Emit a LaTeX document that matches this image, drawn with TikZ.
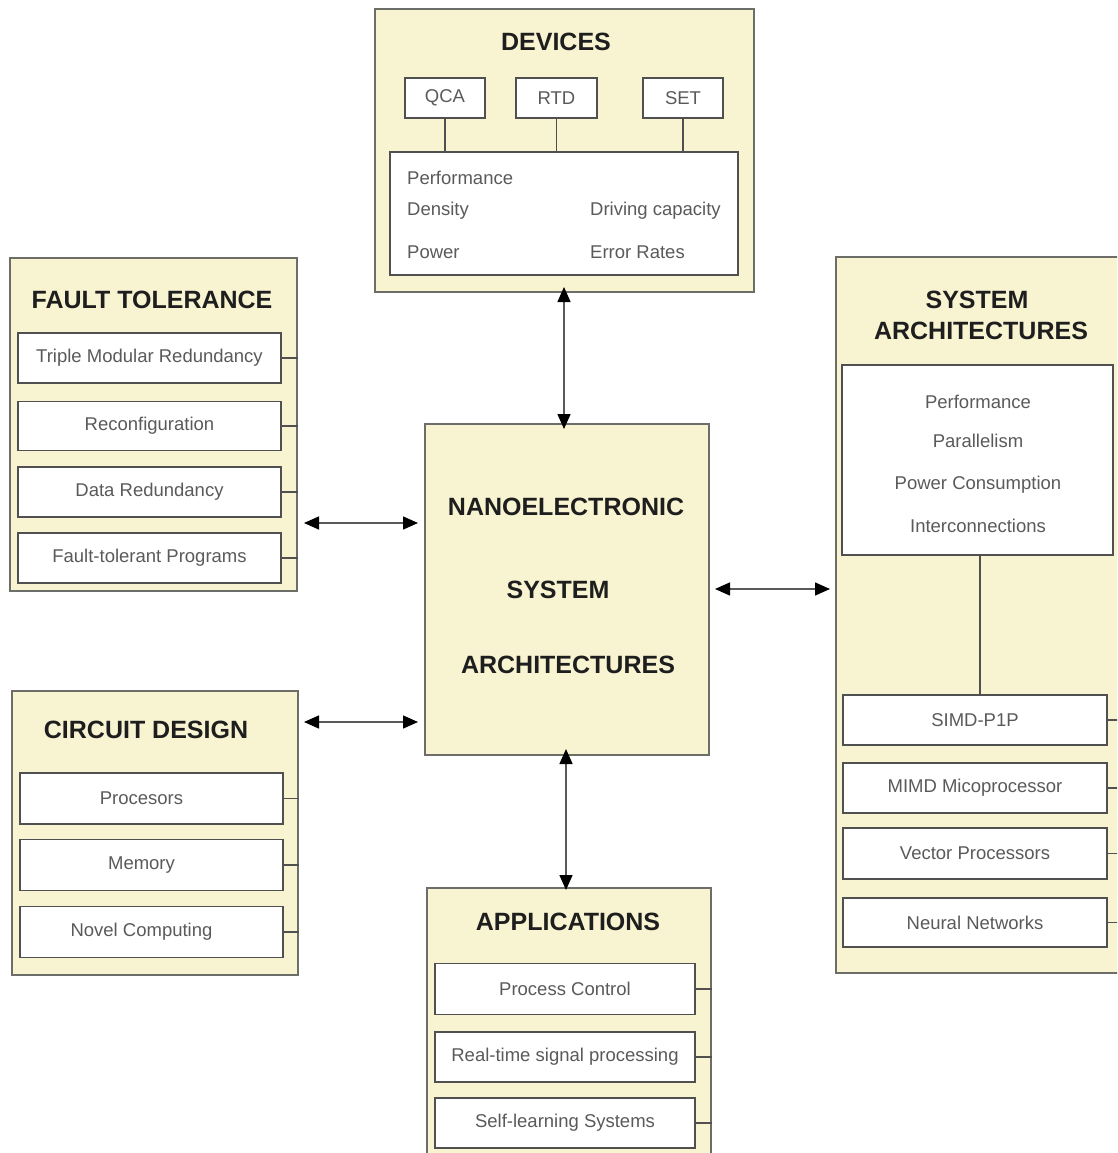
\documentclass[tikz,border=0pt]{standalone}
\usepackage{fontspec}
\setmainfont{Liberation Sans}
\usetikzlibrary{arrows.meta}
\definecolor{cream}{HTML}{F8F4D2}
\definecolor{bordc}{HTML}{6E6E68}
\definecolor{subc}{HTML}{505050}
\definecolor{txtc}{HTML}{5A5A5A}
\definecolor{ttlc}{HTML}{1E1E1E}
\tikzset{
  outerbox/.style={draw=bordc, line width=2pt, fill=cream, inner sep=0pt},
  whitebox/.style={draw=subc, line width=1.8pt, fill=white, inner sep=0pt},
  subbox/.style={whitebox, font=\fontsize{18.5}{22}\selectfont, text=txtc},
  ttl/.style={font=\fontsize{25}{30}\selectfont\bfseries, text=ttlc, inner sep=0pt},
  small/.style={font=\fontsize{18.5}{22}\selectfont, text=txtc, inner sep=0pt},
  tick/.style={draw=subc, line width=1.5pt},
  arr/.style={draw=black!65, line width=1.5pt, {Triangle[length=15pt,width=13pt,black]}-{Triangle[length=15pt,width=13pt,black]}},
}
\begin{document}
\begin{tikzpicture}[x=1pt,y=-1pt]
\useasboundingbox (0,0) rectangle (1117,1153);
\clip (0,0) rectangle (1117,1153);
\fill[white] (0,0) rectangle (1117,1153);

% ---------- DEVICES ----------
\node[outerbox, minimum width=379pt, minimum height=283pt] (dev) at (564.5,150.5) {};
\node[ttl] (devt) at (556,42) {DEVICES};
\node[whitebox, minimum width=348pt, minimum height=123pt] (devin) at (564,213.5) {};
\node[subbox, minimum width=80pt, minimum height=40pt] (qca) at (445,98) {QCA};
\node[subbox, minimum width=81pt, minimum height=40pt] (rtd) at (556.5,98) {RTD};
\node[subbox, minimum width=80pt, minimum height=40pt] (set) at (683,98) {SET};
\draw[tick] (qca.south) -- (qca.south |- devin.north);
\draw[tick] (rtd.south) -- (rtd.south |- devin.north);
\draw[tick] (set.south) -- (set.south |- devin.north);
\node[small, anchor=west] (dperf) at (407,178) {Performance};
\node[small, anchor=west] (ddens) at (407,211) {Density};
\node[small, anchor=west] (dpow) at (407,252) {Power};
\node[small, anchor=west] (ddrv) at (590,211) {Driving capacity};
\node[small, anchor=west] (derr) at (590,252) {Error Rates};

% ---------- FAULT TOLERANCE ----------
\node[outerbox, minimum width=287pt, minimum height=333pt] (ft) at (153.5,424.5) {};
\node[ttl] (ftt) at (152,300) {FAULT TOLERANCE};
\node[subbox, minimum width=263pt, minimum height=50pt] (ft1) at (149.5,358) {Triple Modular Redundancy};
\node[subbox, minimum width=263pt, minimum height=49pt] (ft2) at (149.5,426) {Reconfiguration};
\node[subbox, minimum width=263pt, minimum height=50pt] (ft3) at (149.5,492) {Data Redundancy};
\node[subbox, minimum width=263pt, minimum height=50pt] (ft4) at (149.5,558) {Fault-tolerant Programs};
\foreach \b in {ft1,ft2,ft3,ft4} \draw[tick] (\b.east) -- (\b.east -| ft.east);

% ---------- CIRCUIT DESIGN ----------
\node[outerbox, minimum width=286pt, minimum height=284pt] (cd) at (155,833) {};
\node[ttl] (cdt) at (146,730) {CIRCUIT DESIGN};
\node[subbox, minimum width=263pt, minimum height=51pt] (cd1) at (151.5,798.5) {\hspace*{-20pt}Procesors};
\node[subbox, minimum width=263pt, minimum height=51pt] (cd2) at (151.5,865) {\hspace*{-20pt}Memory};
\node[subbox, minimum width=263pt, minimum height=51pt] (cd3) at (151.5,932) {\hspace*{-20pt}Novel Computing};
\foreach \b in {cd1,cd2,cd3} \draw[tick] (\b.east) -- (\b.east -| cd.east);

% ---------- CENTER ----------
\node[outerbox, minimum width=284pt, minimum height=331pt] (cen) at (567,589.5) {};
\node[ttl] (cen1) at (566,507) {NANOELECTRONIC};
\node[ttl] (cen2) at (558,590) {SYSTEM};
\node[ttl] (cen3) at (568,665) {ARCHITECTURES};

% ---------- SYSTEM ARCHITECTURES ----------
\node[outerbox, minimum width=288pt, minimum height=716pt] (sa) at (980,615) {};
\node[ttl] (sat1) at (977,300) {SYSTEM};
\node[ttl] (sat2) at (981,331) {ARCHITECTURES};
\node[whitebox, minimum width=271pt, minimum height=190pt] (sain) at (977.5,460) {};
\node[small] (sap1) at (978,402) {Performance};
\node[small] (sap2) at (978,441) {Parallelism};
\node[small] (sap3) at (978,485) {Power Consumption};
\node[small] (sap4) at (978,526) {Interconnections};
\node[subbox, minimum width=264pt, minimum height=50pt] (sa1) at (975,720) {SIMD-P1P};
\node[subbox, minimum width=264pt, minimum height=50pt] (sa2) at (975,788) {MIMD Micoprocessor};
\node[subbox, minimum width=264pt, minimum height=51pt] (sa3) at (975,853.5) {Vector Processors};
\node[subbox, minimum width=264pt, minimum height=49pt] (sa4) at (975,922.5) {Neural Networks};
\draw[tick] (980,555) coordinate (sav1) -- (sav1 |- sa1.north);
\foreach \b in {sa1,sa2,sa3,sa4} \draw[tick] (\b.east) -- (\b.east -| sa.east);

% ---------- APPLICATIONS ----------
\node[outerbox, minimum width=284pt, minimum height=272pt] (app) at (569,1024) {};
\node[ttl] (appt) at (568,922) {APPLICATIONS};
\node[subbox, minimum width=260pt, minimum height=51pt] (ap1) at (565,989) {Process Control};
\node[subbox, minimum width=260pt, minimum height=50pt] (ap2) at (565,1057) {Real-time signal processing};
\node[subbox, minimum width=260pt, minimum height=50pt] (ap3) at (565,1123) {Self-learning Systems};
\foreach \b in {ap1,ap2,ap3} \draw[tick] (\b.east) -- (\b.east -| app.east);

% ---------- ARROWS ----------
\coordinate (yft) at (0,523);
\coordinate (ycd) at (0,722);
\coordinate (ysa) at (0,589);
\coordinate (xdv) at (564,0);
\coordinate (xap) at (566,0);
\draw[arr] ([yshift=6pt]dev.south -| xdv) -- ([yshift=-6pt]cen.north -| xdv);
\draw[arr] ([yshift=7pt]cen.south -| xap) -- ([yshift=-3pt]app.north -| xap);
\draw[arr] ([xshift=6pt]ft.east |- yft) -- ([xshift=-6pt]cen.west |- yft);
\draw[arr] ([xshift=5pt]cd.east |- ycd) -- ([xshift=-6pt]cen.west |- ycd);
\draw[arr] ([xshift=5pt]cen.east |- ysa) -- ([xshift=-5pt]sa.west |- ysa);
\end{tikzpicture}
\end{document}
